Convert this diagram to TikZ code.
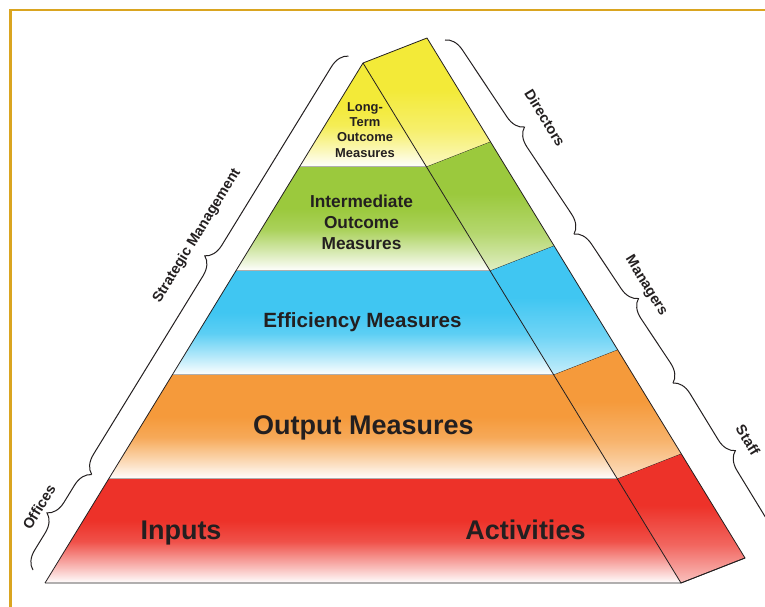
\documentclass[tikz,border=0pt]{standalone}
\usepackage{fontspec}
\setmainfont{Liberation Sans}
\usetikzlibrary{decorations.pathreplacing}

\definecolor{framegold}{RGB}{218,165,32}
\definecolor{inkgray}{RGB}{35,31,32}
\definecolor{lyellow}{RGB}{243,234,56}
\definecolor{lgreen}{RGB}{155,201,61}
\definecolor{lblue}{RGB}{64,198,242}
\definecolor{lorange}{RGB}{245,154,59}
\definecolor{lred}{RGB}{237,50,41}
\colorlet{tint}{white}

\pgfdeclareverticalshading[tint]{frontfade}{100bp}{color(0bp)=(white); color(25bp)=(white);
  color(33bp)=(tint!35!white); color(45bp)=(tint!85!white); color(55bp)=(tint); color(100bp)=(tint)}
\pgfdeclareverticalshading[tint]{sidefade}{100bp}{color(0bp)=(tint!30!white); color(25bp)=(tint!30!white);
  color(40bp)=(tint!75!white); color(55bp)=(tint); color(100bp)=(tint)}

\tikzset{
  rim/.style={draw=inkgray, line width=0.8pt},
  bracket/.style={draw=inkgray, line width=1pt, decorate, decoration={brace, amplitude=18pt}},
  side label/.style={text=inkgray, font=\fontsize{14.5}{16}\selectfont\bfseries},
  tier label/.style={text=inkgray, align=center, inner sep=0pt},
}

\begin{document}
\begin{tikzpicture}[x=1pt, y=-1pt]
    \useasboundingbox (0,0) rectangle (765,607);
    \clip (0,0) rectangle (765,607);

    % frame
    \draw[framegold, line width=2.5pt] (10.5,10) rectangle (800,650);

    % tiers, front and side face
    \foreach \i/\tier in {0/lyellow,1/lgreen,2/lblue,3/lorange,4/lred}{
        \pgfmathsetmacro\ya{63+104*\i}
        \pgfmathsetmacro\yb{63+104*(\i+1)}
        \pgfmathsetmacro\la{363-63.6*\i}
        \pgfmathsetmacro\lb{363-63.6*(\i+1)}
        \pgfmathsetmacro\ra{363+63.6*\i}
        \pgfmathsetmacro\rb{363+63.6*(\i+1)}
        \pgfmathsetmacro\rc{\ra+64}
        \pgfmathsetmacro\rd{\rb+64}
        \pgfmathsetmacro\yc{\ya-25}
        \pgfmathsetmacro\yd{\yb-25}
        \colorlet{tint}{\tier}
        \shade[shading=frontfade] (\la,\ya) -- (\ra,\ya) -- (\rb,\yb) -- (\lb,\yb) -- cycle;
        \shade[shading=sidefade] (\ra,\ya) -- (\rc,\yc) -- (\rd,\yd) -- (\rb,\yb) -- cycle;
        \draw[rim] (\lb,\yb) -- (\rb,\yb) -- (\rd,\yd);
    }
    \coordinate (apex) at (363,63);
    \coordinate (back apex) at (427,38);
    \coordinate (base left) at (45,583);
    \coordinate (base right) at (681,583);
    \coordinate (back base) at (745,558);
    \draw[rim] (base left) -- (apex) -- (back apex) -- (back base) -- (base right) -- (apex);

    % tier texts
    \node[tier label, anchor=north, font=\fontsize{12.9}{15.2}\selectfont\bfseries] (longterm)
        at (365,102.4) {Long-\\Term\\Outcome\\Measures};
    \node[tier label, anchor=north, font=\fontsize{17.3}{21}\selectfont\bfseries] (intermediate)
        at (361.5,194.8) {Intermediate\\Outcome\\Measures};
    \node[tier label, anchor=base, font=\fontsize{20.6}{24}\selectfont\bfseries] (efficiency)
        at (362.5,327.4) {Efficiency Measures};
    \node[tier label, anchor=base, font=\fontsize{27}{30}\selectfont\bfseries] (output)
        at (363.5,434.7) {Output Measures};
    \node[tier label, anchor=base, font=\fontsize{27}{30}\selectfont\bfseries] (inputs)
        at (181,539.7) {Inputs};
    \node[tier label, anchor=base, font=\fontsize{27}{30}\selectfont\bfseries] (activities)
        at (525.5,539.7) {Activities};

    % braces
    \coordinate (offices low) at (33,570);
    \coordinate (offices high) at (91.7,474.4);
    \coordinate (strategic high) at (348.5,56.1);
    \coordinate (directors top) at (445,40);
    \coordinate (directors end) at (574,234);
    \coordinate (managers end) at (673,383);
    \coordinate (staff end) at (767,537);
    \draw[bracket] (offices low) -- (offices high);
    \draw[bracket] (offices high) -- (strategic high);
    \draw[bracket] (directors top) -- (directors end);
    \draw[bracket] (directors end) -- (managers end);
    \draw[bracket] (managers end) -- (staff end);

    \node[side label, rotate=58.5] (strategic) at (197,236) {Strategic Management};
    \node[side label, rotate=58.5] (offices) at (39,507) {Offices};
    \node[side label, rotate=-58.5] (directors) at (545,118) {Directors};
    \node[side label, rotate=-58.5] (managers) at (646,286) {Managers};
    \node[side label, rotate=-58.5] (staff) at (748,440) {Staff};
\end{tikzpicture}
\end{document}
